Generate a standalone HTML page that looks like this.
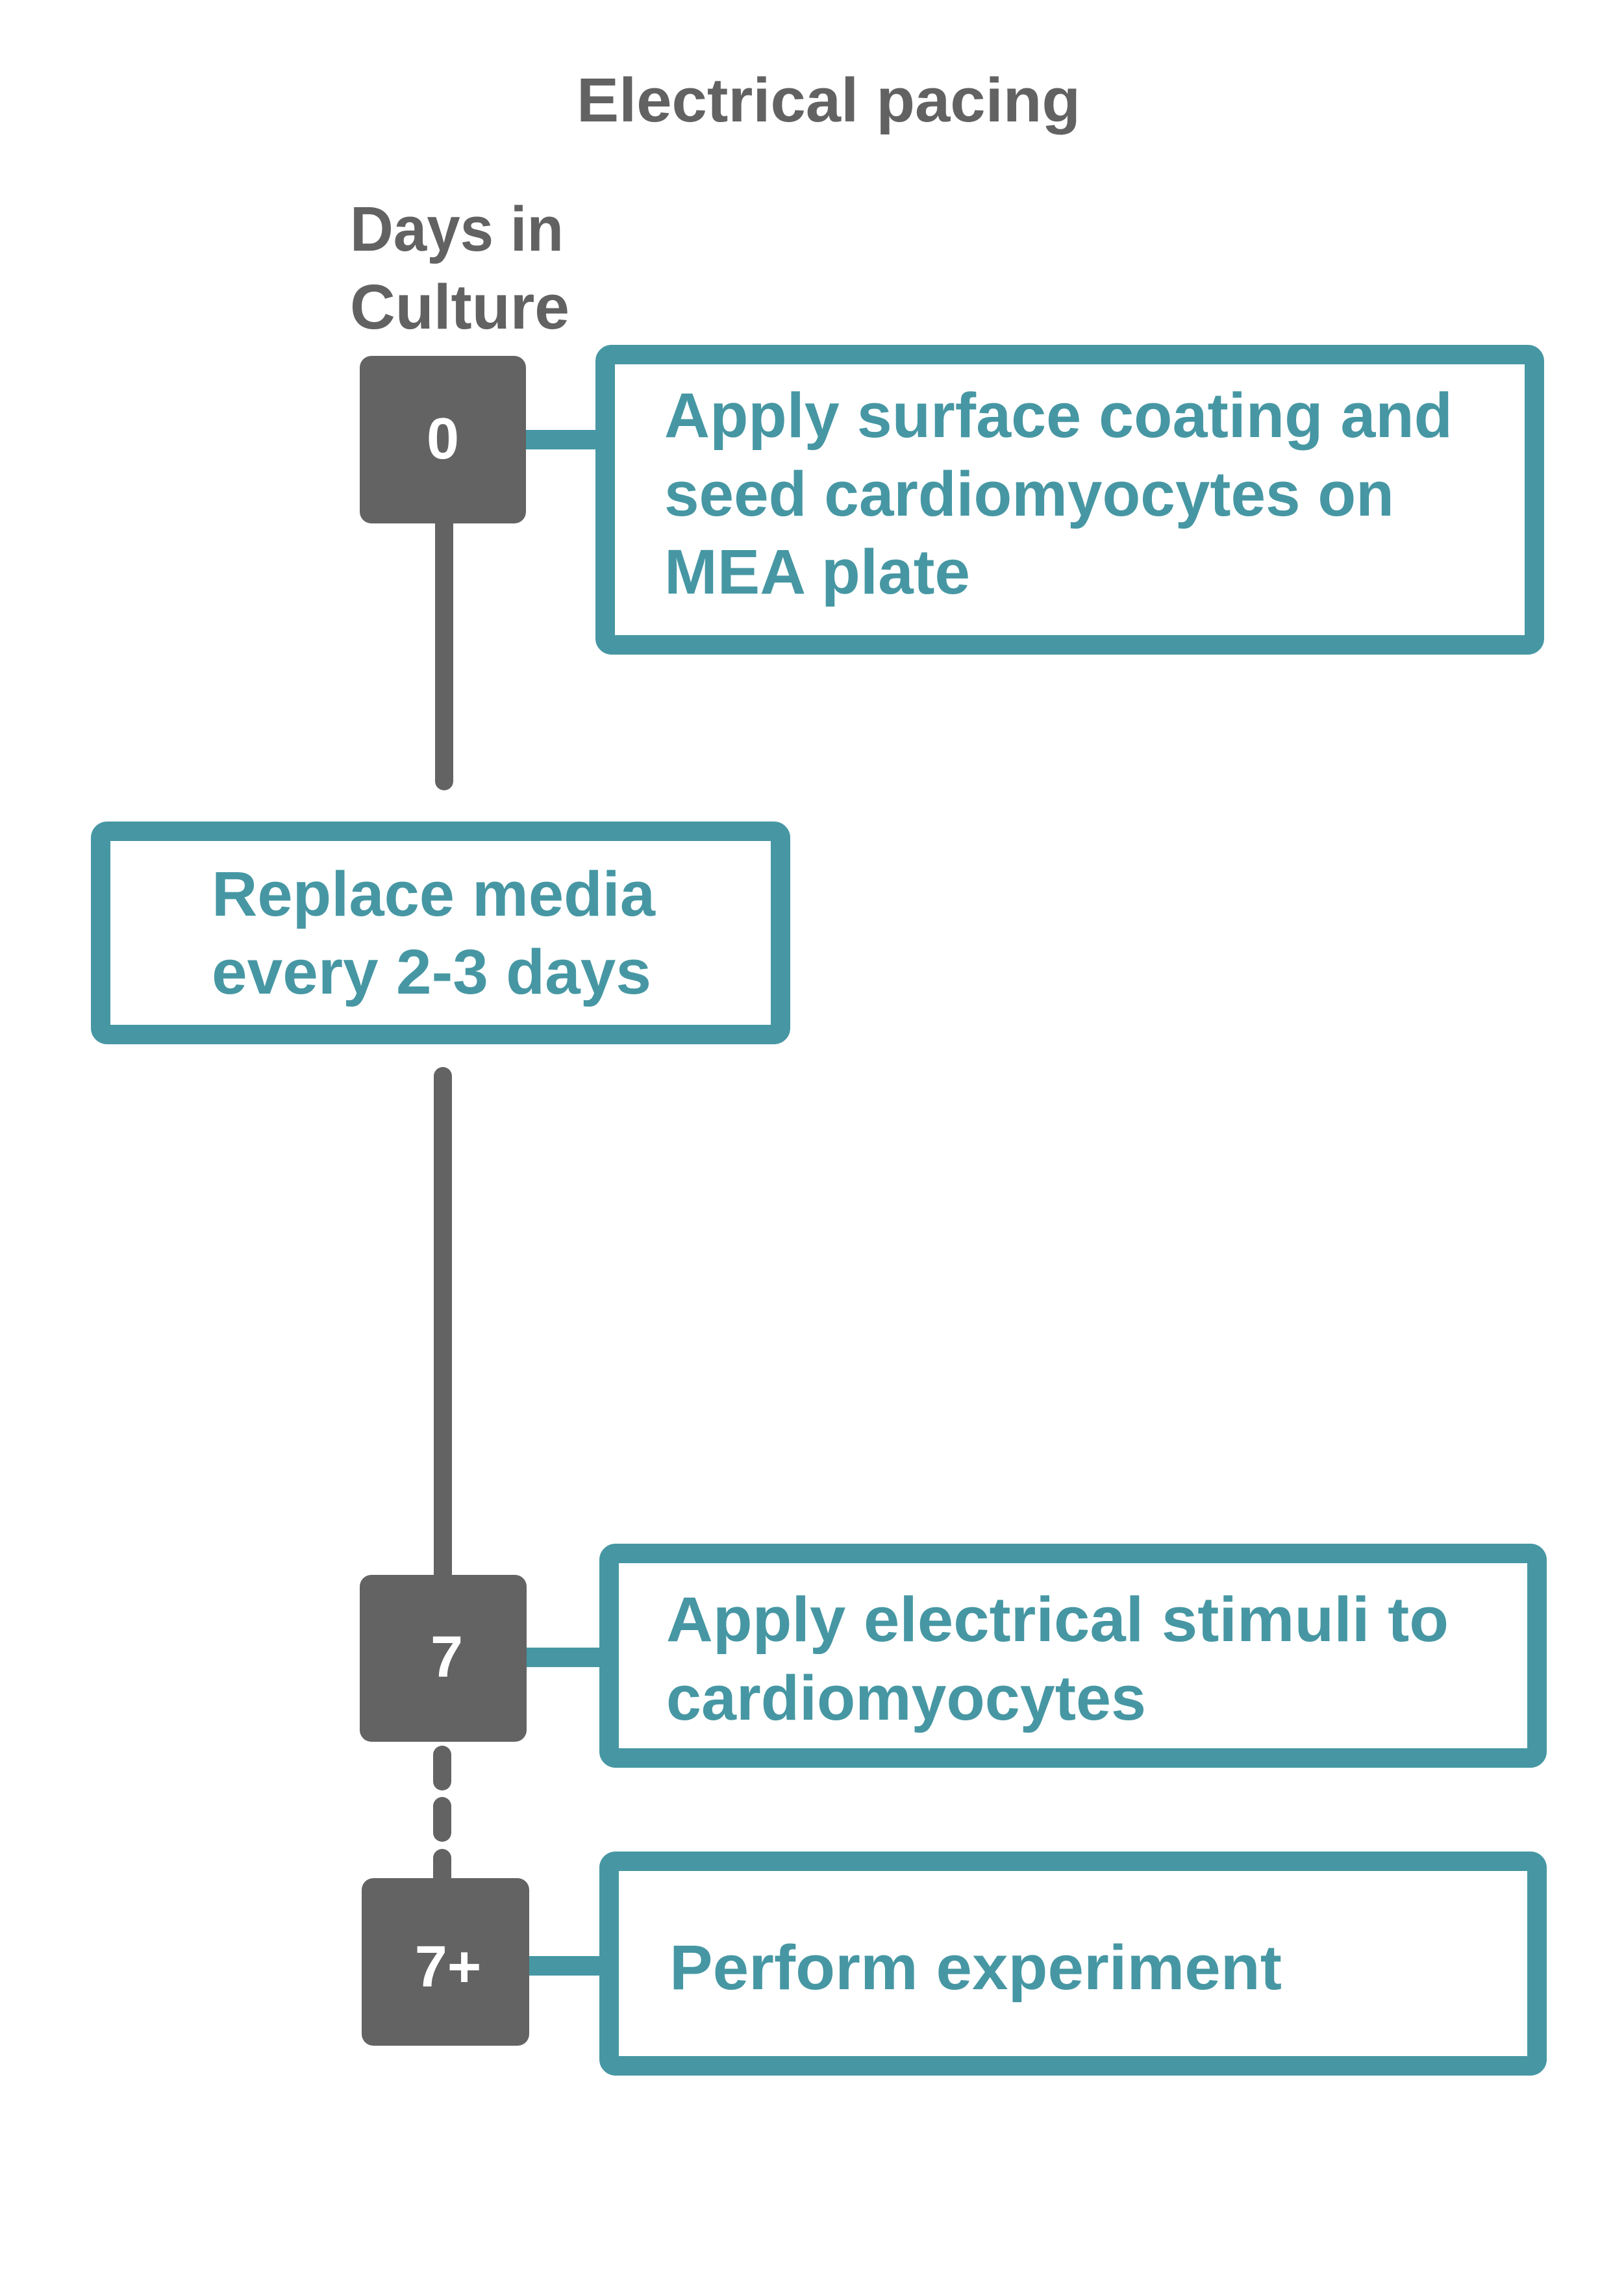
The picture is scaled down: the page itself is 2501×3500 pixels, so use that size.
<!DOCTYPE html>
<html><head><meta charset="utf-8"><style>
html,body{margin:0;padding:0;background:#fff;}
svg{display:block;}
text{font-family:"Liberation Sans",sans-serif;font-weight:bold;}
</style></head><body>
<svg width="2501" height="3500" viewBox="0 0 2501 3500" xmlns="http://www.w3.org/2000/svg">
<rect width="2501" height="3500" fill="#fff"/>
<text x="888" y="187" font-size="96" fill="#626262" textLength="776" lengthAdjust="spacingAndGlyphs">Electrical pacing</text>
<text x="539" y="386" font-size="97" fill="#626262" textLength="329" lengthAdjust="spacingAndGlyphs">Days in</text>
<text x="539" y="506" font-size="97" fill="#626262" textLength="338" lengthAdjust="spacingAndGlyphs">Culture</text>

<g stroke="#636363" stroke-width="28" stroke-linecap="round">
<line x1="684" y1="800" x2="684" y2="1203"/>
<line x1="682" y1="1657" x2="682" y2="2440"/>
<line x1="681" y1="2702" x2="681" y2="2743"/>
<line x1="681" y1="2781" x2="681" y2="2822"/>
<line x1="681" y1="2861" x2="681" y2="2900"/>
</g>
<g stroke="#4697A3" stroke-width="30">
<line x1="805" y1="677" x2="925" y2="677"/>
<line x1="805" y1="2552" x2="930" y2="2552"/>
<line x1="810" y1="3027" x2="930" y2="3027"/>
</g>

<rect x="554" y="548" width="256" height="258" rx="18" fill="#636363"/>
<text x="682" y="706" font-size="90" fill="#fff" text-anchor="middle">0</text>
<rect x="554" y="2425" width="257" height="257" rx="18" fill="#636363"/>
<text x="688" y="2582" font-size="90" fill="#fff" text-anchor="middle">7</text>
<rect x="557" y="2892" width="258" height="258" rx="18" fill="#636363"/>
<text x="690" y="3059" font-size="90" fill="#fff" text-anchor="middle">7+</text>

<g fill="none" stroke="#4697A3" stroke-width="30">
<rect x="932" y="546" width="1431" height="447" rx="10"/>
<rect x="155" y="1280" width="1047" height="313" rx="10"/>
<rect x="938" y="2392" width="1429" height="315" rx="10"/>
<rect x="938" y="2866" width="1429" height="315" rx="10"/>
</g>
<g fill="#4697A3" font-size="97">
<text x="1023" y="673" textLength="1214" lengthAdjust="spacingAndGlyphs">Apply surface coating and</text>
<text x="1023" y="794" textLength="1124" lengthAdjust="spacingAndGlyphs">seed cardiomyocytes on</text>
<text x="1023" y="914" textLength="471" lengthAdjust="spacingAndGlyphs">MEA plate</text>
<text x="326" y="1410" textLength="683" lengthAdjust="spacingAndGlyphs">Replace media</text>
<text x="326" y="1530" textLength="677" lengthAdjust="spacingAndGlyphs">every 2-3 days</text>
<text x="1026" y="2527" textLength="1205" lengthAdjust="spacingAndGlyphs">Apply electrical stimuli to</text>
<text x="1026" y="2648" textLength="739" lengthAdjust="spacingAndGlyphs">cardiomyocytes</text>
<text x="1031" y="3063" textLength="943" lengthAdjust="spacingAndGlyphs">Perform experiment</text>
</g>
</svg>
</body></html>
